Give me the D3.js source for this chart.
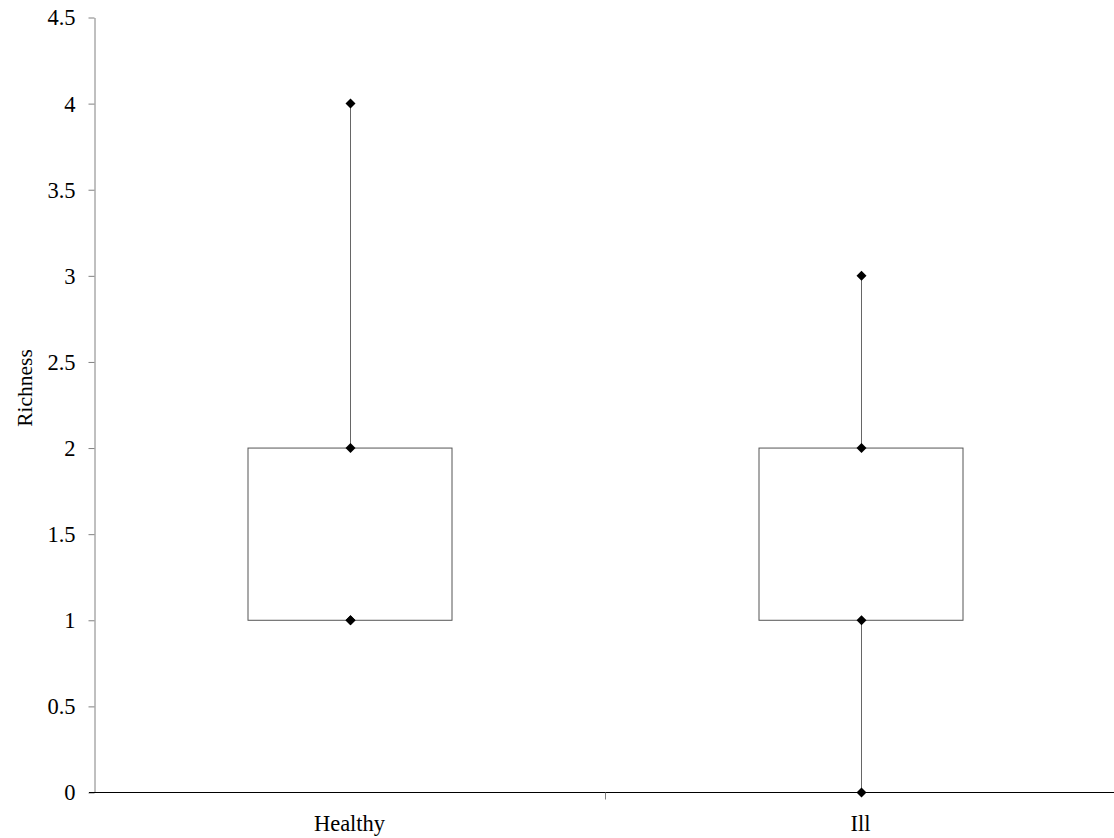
<!DOCTYPE html>
<html><head><meta charset="utf-8">
<script src="https://cdn.jsdelivr.net/npm/d3@7"></script>
<style>body{margin:0;background:#fff}svg{display:block}</style>
</head><body>
<script>
const categories = ["Healthy", "Ill"];
const minVals = [1, 0];
const q1Vals = [1, 1];
const q3Vals = [2, 2];
const maxVals = [4, 3];
const yTicks = [0, 0.5, 1, 1.5, 2, 2.5, 3, 3.5, 4, 4.5];
const yLabel = "Richness";

const W = 1114, H = 838;
const svg = d3.select("body").append("svg").attr("width", W).attr("height", H);
const font = "'Liberation Serif', 'Times New Roman', serif";

const x = d3.scaleBand().domain(categories).range([94, 1116]);
const y = d3.scaleLinear().domain([0, 4.5]).range([792.5, 17.5]);

// y axis
const ya = svg.append("g").attr("transform", "translate(94.5,0)")
  .call(d3.axisLeft(y).tickValues(yTicks).tickSize(6).tickSizeOuter(0).tickFormat(d => d3.format("")(d)));
ya.attr("font-family", font).attr("font-size", 22.5);
ya.select(".domain").attr("stroke", "#808080");
ya.selectAll(".tick line").attr("stroke", "#808080");
ya.selectAll(".tick text").attr("font-family", font).attr("font-size", 22.5).attr("fill", "#000").attr("x", -19).attr("dy", "0.33em");

// x axis
const xa = svg.append("g").attr("transform", `translate(0,${y(0)})`)
  .call(d3.axisBottom(x).tickSize(0).tickSizeOuter(0));
xa.attr("font-family", font).attr("font-size", 22.5);
xa.select(".domain").attr("stroke", "#000").attr("d", `M89,0H${W}`);
xa.selectAll(".tick text").attr("font-family", font).attr("font-size", 22.5).attr("fill", "#000")
  .attr("y", 38.5).attr("dy", 0);
// category separator ticks
xa.selectAll(".sep").data(categories.slice(1)).enter().append("line")
  .attr("x1", d => Math.round(x(d)) + 0.5).attr("x2", d => Math.round(x(d)) + 0.5)
  .attr("y1", 0).attr("y2", 7).attr("stroke", "#808080");

svg.append("text").attr("transform", `translate(32,388) rotate(-90)`)
  .attr("text-anchor", "middle").attr("font-family", font).attr("font-size", 21.5).text(yLabel);

const boxW = x.bandwidth() * 0.4;
const cx = d => Math.round(x(d) + x.bandwidth() / 2) + 0.5;
const g = svg.append("g");
categories.forEach((c, i) => {
  // boxes
  g.append("rect").attr("x", Math.round(cx(c) - boxW / 2)).attr("width", Math.round(boxW))
    .attr("y", y(q3Vals[i])).attr("height", y(q1Vals[i]) - y(q3Vals[i]))
    .attr("fill", "#fff").attr("stroke", "#555").attr("stroke-width", 1);
  // whiskers
  g.append("line").attr("x1", cx(c)).attr("x2", cx(c)).attr("y1", y(maxVals[i])).attr("y2", y(q3Vals[i]))
    .attr("stroke", "#666");
  g.append("line").attr("x1", cx(c)).attr("x2", cx(c)).attr("y1", y(q1Vals[i])).attr("y2", y(minVals[i]))
    .attr("stroke", "#666");
  // markers
  [maxVals[i], q3Vals[i], q1Vals[i], minVals[i]].forEach(v => {
    g.append("path").attr("transform", `translate(${cx(c)},${y(v)})`)
      .attr("d", "M0,-5L5,0L0,5L-5,0Z").attr("fill", "#000");
  });
});
</script>
</body></html>
